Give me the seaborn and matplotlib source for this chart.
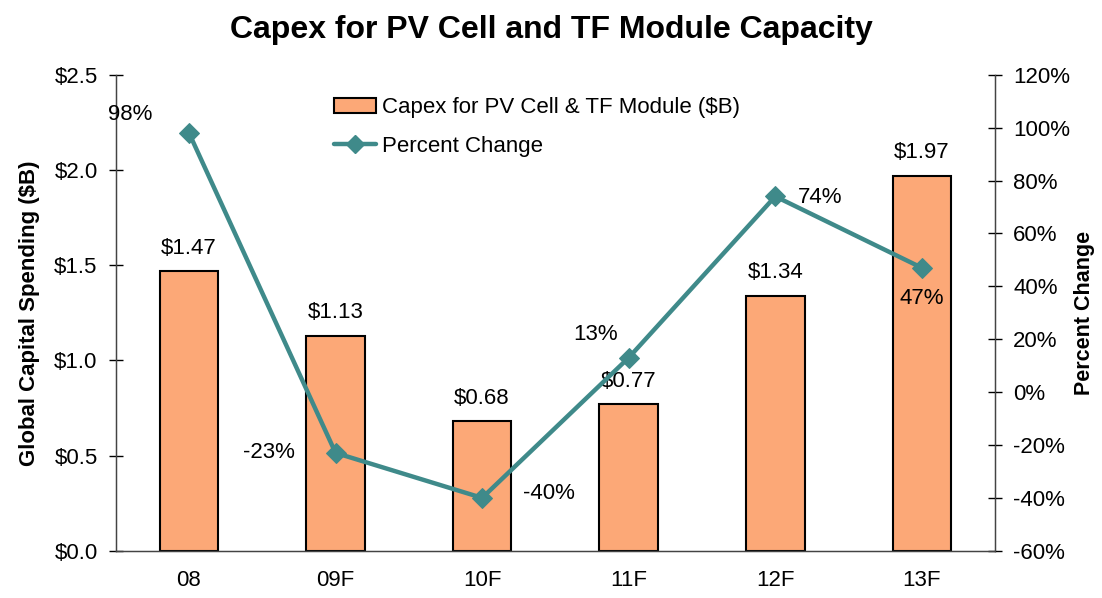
import matplotlib
matplotlib.use("Agg")
import matplotlib.pyplot as plt
import matplotlib.ticker as ticker
from matplotlib.patches import Patch
from matplotlib.lines import Line2D
import seaborn as sns
import pandas as pd

years = ["08", "09F", "10F", "11F", "12F", "13F"]
capex = [1.47, 1.13, 0.68, 0.77, 1.34, 1.97]
pct_change = [98, -23, -40, 13, 74, 47]

bar_color = "#FCA877"
line_color = "#3F8A8A"

df = pd.DataFrame({"year": years, "capex": capex, "pct": pct_change})

sns.set_style("white")
plt.rcParams["font.family"] = ["Liberation Sans", "DejaVu Sans"]
plt.rcParams.update({"text.color": "black", "axes.labelcolor": "black",
                     "xtick.color": "black", "ytick.color": "black"})

fig = plt.figure(figsize=(11.02, 5.98), dpi=100)
ax = fig.add_axes([0.105, 0.079, 0.798, 0.796])

sns.barplot(data=df, x="year", y="capex", ax=ax, color=bar_color,
            width=0.4, edgecolor="black", linewidth=1.5, saturation=1)

ax.set_ylim(0, 2.5)
ax.set_xlim(-0.5, 5.5)
ax.yaxis.set_major_locator(ticker.MultipleLocator(0.5))
ax.yaxis.set_major_formatter(ticker.FuncFormatter(lambda v, p: f"${v:.1f}"))
ax.set_xlabel("")
ax.set_ylabel("Global Capital Spending ($B)", fontsize=16, fontweight="bold", labelpad=10)
ax.tick_params(axis="y", labelsize=16, direction="inout", length=10, width=1, pad=8)
ax.tick_params(axis="x", labelsize=16, length=0, pad=14)

# boundary ticks between categories on the x axis
ax.set_xticks([i - 0.5 for i in range(7)], minor=True)
ax.tick_params(axis="x", which="minor", direction="inout", length=10, width=1, color="#444444")

ax.spines["top"].set_visible(False)
for side in ["left", "bottom", "right"]:
    ax.spines[side].set_color("#444444")
    ax.spines[side].set_linewidth(1)

for i, v in enumerate(capex):
    ax.text(i, v + 0.12, f"${v:.2f}", ha="center", va="center", fontsize=16)

ax2 = ax.twinx()
sns.lineplot(data=df, x="year", y="pct", ax=ax2, color=line_color, linewidth=3.2,
             marker="D", markersize=10, markeredgecolor=line_color, sort=False)
ax2.set_ylim(-60, 120)
ax2.yaxis.set_major_locator(ticker.MultipleLocator(20))
ax2.yaxis.set_major_formatter(ticker.FuncFormatter(lambda v, p: f"{v:.0f}%"))
ax2.set_ylabel("Percent Change", fontsize=15.5, fontweight="bold", labelpad=3)
ax2.tick_params(axis="y", labelsize=16, direction="inout", length=10, width=1, pad=8)
ax2.spines["top"].set_visible(False)
for side in ["left", "bottom", "right"]:
    ax2.spines[side].set_color("#444444")

offsets = [(-42, 13), (-48, 0), (48, 3), (-24, 17), (32, -1), (0, -22)]
for i, (v, off) in enumerate(zip(pct_change, offsets)):
    ax2.annotate(f"{v}%", (i, v), xytext=off, textcoords="offset points",
                 ha="center", va="center", fontsize=16)

handles = [
    Patch(facecolor=bar_color, edgecolor="black", linewidth=1.5,
          label="Capex for PV Cell & TF Module ($B)"),
    Line2D([0], [0], color=line_color, linewidth=3.2, marker="D", markersize=9,
           label="Percent Change"),
]
ax2.legend(handles=handles, loc="upper left", bbox_to_anchor=(0.225, 0.995),
           frameon=False, fontsize=16, handlelength=1.9, labelspacing=0.8,
           handletextpad=0.3)

fig.suptitle("Capex for PV Cell and TF Module Capacity", fontsize=23,
             fontweight="bold", y=0.975)

fig.savefig("out.png", dpi=100)
